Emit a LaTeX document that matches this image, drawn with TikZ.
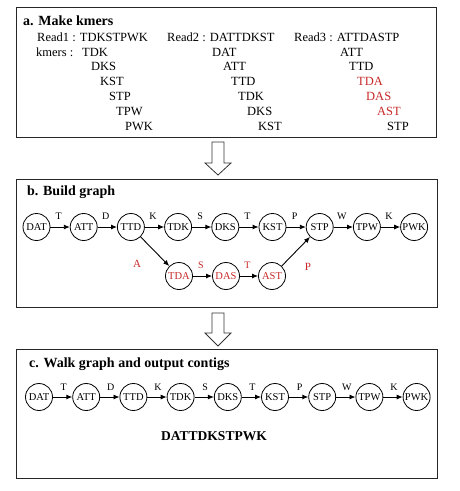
\documentclass[tikz,border=0pt]{standalone}
\usepackage{fontspec}
\setmainfont{Liberation Serif}
\usetikzlibrary{arrows.meta}
\definecolor{myred}{RGB}{200,40,40}
\begin{document}
\begin{tikzpicture}[x=1pt,y=-1pt,
  box/.style={draw=black!85, line width=1.1pt, inner sep=0pt, anchor=north west},
  kn/.style={circle, draw, line width=0.8pt, minimum size=27pt, inner sep=0pt, font=\fontsize{10.5}{11}\selectfont},
  ed/.style={line width=0.9pt, -{Latex[length=6pt,width=5pt]}},
  lab/.style={font=\fontsize{10}{11}\selectfont, inner sep=0pt},
  txt/.style={anchor=base west, inner sep=0pt, font=\fontsize{12.5}{14}\selectfont},
  ttl/.style={anchor=base west, inner sep=0pt, font=\fontsize{14}{16}\selectfont\bfseries},
  blk/.style={draw=black!80, line width=0.8pt, fill=white}]
\useasboundingbox[fill=white] (0,0) rectangle (460,491);

% boxes
\node[box, minimum width=420pt, minimum height=130pt] (boxA) at (16,7) {};
\node[box, minimum width=421pt, minimum height=128pt] (boxB) at (16,179) {};
\node[box, minimum width=421pt, minimum height=129pt] (boxC) at (16,349) {};

% block arrows
\draw[blk] (212,142) -- (224,142) -- (224,163) -- (231,163) -- (218,175) -- (205,163) -- (212,163) -- cycle;
\draw[blk] (212,313) -- (224,313) -- (224,333) -- (231,333) -- (218,346) -- (205,333) -- (212,333) -- cycle;

% ---- a. Make kmers
\node[ttl] (tA) at (23,25) {a. Make kmers};
\node[txt] (r1) at (37,41.3) {Read1 : TDKSTPWK};
\node[txt] (r2) at (167,41.3) {Read2 : DATTDKST};
\node[txt] (r3) at (294,41.3) {Read3 : ATTDASTP};
\node[txt] (km) at (36,56.1) {kmers :};
% column 1
\node[txt] (k11) at (82,56.1) {TDK};
\node[txt] (k12) at (91,70.9) {DKS};
\node[txt] (k13) at (100,85.7) {KST};
\node[txt] (k14) at (109,100.5) {STP};
\node[txt] (k15) at (116,115.3) {TPW};
\node[txt] (k16) at (125,130.1) {PWK};
% column 2
\node[txt] (k21) at (212,56.1) {DAT};
\node[txt] (k22) at (223,70.9) {ATT};
\node[txt] (k23) at (231,85.7) {TTD};
\node[txt] (k24) at (238,100.5) {TDK};
\node[txt] (k25) at (247,115.3) {DKS};
\node[txt] (k26) at (258,130.1) {KST};
% column 3
\node[txt] (k31) at (340,56.1) {ATT};
\node[txt] (k32) at (349,70.9) {TTD};
\node[txt, text=myred] (k33) at (357,85.7) {TDA};
\node[txt, text=myred] (k34) at (366,100.5) {DAS};
\node[txt, text=myred] (k35) at (377,115.3) {AST};
\node[txt] (k36) at (387,130.1) {STP};

% ---- b. Build graph
\node[ttl] (tB) at (27,195) {b. Build graph};
\foreach \n [count=\i from 0] in {DAT,ATT,TTD,TDK,DKS,KST,STP,TPW,PWK}
  \node[kn] (b\n) at (36.5+47.2*\i,227) {\n};
\node[kn, text=myred] (bTDA) at (179,276) {TDA};
\node[kn, text=myred] (bDAS) at (226,276) {DAS};
\node[kn, text=myred] (bAST) at (272,276) {AST};

\draw[ed] (bDAT) -- node[lab, above=7pt, xshift=-1.5pt] {T} (bATT);
\draw[ed] (bATT) -- node[lab, above=7pt, xshift=-1.5pt] {D} (bTTD);
\draw[ed] (bTTD) -- node[lab, above=7pt, xshift=-1.5pt] {K} (bTDK);
\draw[ed] (bTDK) -- node[lab, above=7pt, xshift=-1.5pt] {S} (bDKS);
\draw[ed] (bDKS) -- node[lab, above=7pt, xshift=-1.5pt] {T} (bKST);
\draw[ed] (bKST) -- node[lab, above=7pt, xshift=-1.5pt] {P} (bSTP);
\draw[ed] (bSTP) -- node[lab, above=7pt, xshift=-1.5pt] {W} (bTPW);
\draw[ed] (bTPW) -- node[lab, above=7pt, xshift=-1.5pt] {K} (bPWK);
\draw[ed] (bTTD) -- (bTDA);
\draw[ed] (bTDA) -- node[lab, above=7pt, xshift=-1.5pt, text=myred] {S} (bDAS);
\draw[ed] (bDAS) -- node[lab, above=7pt, xshift=-1.5pt, text=myred] {T} (bAST);
\draw[ed] (bAST) -- (bSTP);
\node[lab, text=myred, font=\fontsize{11}{12}\selectfont] (lA) at (137,264) {A};
\node[lab, text=myred, font=\fontsize{11}{12}\selectfont] (lP) at (308,267) {P};

% ---- c. Walk graph
\node[ttl] (tC) at (29,367) {c. Walk graph and output contigs};
\foreach \n [count=\i from 0] in {DAT,ATT,TTD,TDK,DKS,KST,STP,TPW,PWK}
  \node[kn] (c\n) at (39+47.2*\i,397) {\n};
\draw[ed] (cDAT) -- node[lab, above=6pt, xshift=1pt] {T} (cATT);
\draw[ed] (cATT) -- node[lab, above=6pt, xshift=1pt] {D} (cTTD);
\draw[ed] (cTTD) -- node[lab, above=6pt, xshift=1pt] {K} (cTDK);
\draw[ed] (cTDK) -- node[lab, above=6pt, xshift=1pt] {S} (cDKS);
\draw[ed] (cDKS) -- node[lab, above=6pt, xshift=1pt] {T} (cKST);
\draw[ed] (cKST) -- node[lab, above=6pt, xshift=1pt] {P} (cSTP);
\draw[ed] (cSTP) -- node[lab, above=6pt, xshift=1pt] {W} (cTPW);
\draw[ed] (cTPW) -- node[lab, above=6pt, xshift=1pt] {K} (cPWK);
\node[font=\fontsize{13.5}{15}\selectfont\bfseries, inner sep=0pt] (contig) at (214,436) {DATTDKSTPWK};
\end{tikzpicture}
\end{document}
